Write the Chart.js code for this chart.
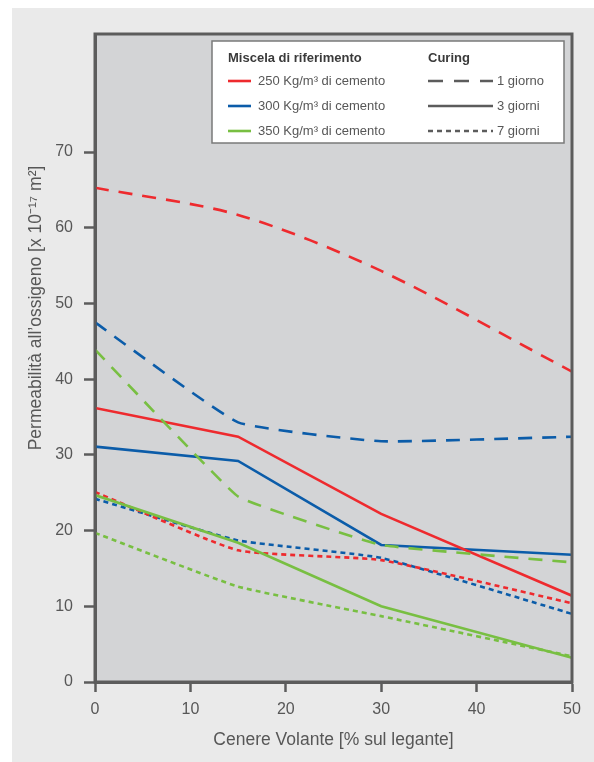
<!DOCTYPE html>
<html>
<head>
<meta charset="utf-8">
<style>
  html, body { margin: 0; padding: 0; background: #ffffff; }
  #wrap { position: relative; width: 594px; height: 762px; }
</style>
<script src="https://cdn.jsdelivr.net/npm/chart.js@4/dist/chart.umd.min.js"></script>
</head>
<body>
<div id="wrap"><canvas id="chart" width="594" height="762"></canvas></div>
<script>
// Fly ash content (% of binder)
const ceneri = [0, 15, 30, 50];

// Oxygen permeability [x 10^-17 m²] per mix and curing time
const c250_1g = [65.3, 61.7, 54.3, 41.0];
const c300_1g = [47.5, 34.3, 31.8, 32.4];
const c350_1g = [43.9, 24.5, 18.1, 15.8];

const c250_3g = [36.2, 32.4, 22.2, 11.4];
const c300_3g = [31.1, 29.2, 18.1, 16.8];
const c350_3g = [24.7, 18.4, 10.0, 3.2];

const c250_7g = [25.1, 17.4, 16.1, 10.4];
const c300_7g = [24.2, 18.7, 16.4, 9.0];
const c350_7g = [19.7, 12.6, 8.7, 3.4];

const xTicks = [0, 10, 20, 30, 40, 50];
const yTicks = [0, 10, 20, 30, 40, 50, 60, 70];

const miscele = ['250 Kg/m³ di cemento', '300 Kg/m³ di cemento', '350 Kg/m³ di cemento'];
const curing = ['1 giorno', '3 giorni', '7 giorni'];

const ROSSO = '#ee2a2e';
const BLU = '#0b5ca9';
const VERDE = '#78bf42';
const GRIGIO = '#5c5c5c';
const TESTO = '#575757';
const FONT = '"Liberation Sans", Arial, Helvetica, sans-serif';

const tratteggi = { 1: [14, 10], 3: [], 7: [5, 4] };

function serie(values, color, giorni, tension) {
  return {
    data: ceneri.map((x, i) => ({ x: x, y: values[i] })),
    borderColor: color,
    borderWidth: 2.6,
    borderDash: tratteggi[giorni],
    pointRadius: 0,
    fill: false,
    tension: tension
  };
}

const datasets = [
  serie(c250_1g, ROSSO, 1, 0.3), serie(c300_1g, BLU, 1, 0.12), serie(c350_1g, VERDE, 1, 0.08),
  serie(c250_3g, ROSSO, 3, 0), serie(c300_3g, BLU, 3, 0), serie(c350_3g, VERDE, 3, 0),
  serie(c250_7g, ROSSO, 7, 0.15), serie(c300_7g, BLU, 7, 0.12), serie(c350_7g, VERDE, 7, 0.12)
];

// Backgrounds, frame, axis titles and the two-column key
const decorazioni = {
  id: 'decorazioni',
  beforeDraw(chart) {
    const ctx = chart.ctx;
    const a = chart.chartArea;
    ctx.save();
    ctx.fillStyle = '#ffffff';
    ctx.fillRect(0, 0, chart.width, chart.height);
    ctx.fillStyle = '#eaeaea';
    ctx.fillRect(12, 8, chart.width - 12, chart.height - 8);
    ctx.fillStyle = '#d3d4d6';
    ctx.fillRect(a.left, a.top, a.right - a.left, a.bottom - a.top);
    ctx.restore();
  },
  afterDraw(chart) {
    const ctx = chart.ctx;
    const a = chart.chartArea;
    ctx.save();

    // plot frame
    ctx.strokeStyle = GRIGIO;
    ctx.lineWidth = 3;
    ctx.strokeRect(a.left, a.top, a.right - a.left, a.bottom - a.top);

    // axis titles
    ctx.fillStyle = TESTO;
    ctx.font = '17.5px ' + FONT;
    ctx.textAlign = 'center';
    ctx.textBaseline = 'middle';
    ctx.fillText('Cenere Volante [% sul legante]', (a.left + a.right) / 2, 740);
    ctx.save();
    ctx.translate(36, 308);
    ctx.rotate(-Math.PI / 2);
    ctx.fillText('Permeabilità all’ossigeno [x 10⁻¹⁷ m²]', 0, 0);
    ctx.restore();

    // key box
    const bx = 212, by = 41, bw = 352, bh = 102;
    ctx.fillStyle = '#ffffff';
    ctx.fillRect(bx, by, bw, bh);
    ctx.strokeStyle = '#7a7a7a';
    ctx.lineWidth = 1.5;
    ctx.strokeRect(bx, by, bw, bh);

    ctx.textAlign = 'left';
    ctx.fillStyle = '#3a3a3a';
    ctx.font = 'bold 13px ' + FONT;
    ctx.fillText('Miscela di riferimento', 228, 58);
    ctx.fillText('Curing', 428, 58);

    const righe = [81, 106, 131];
    const colori = [ROSSO, BLU, VERDE];
    const dashes = [[15, 11], [], [5, 4]];
    ctx.font = '13px ' + FONT;
    for (let i = 0; i < 3; i++) {
      const y = righe[i];
      ctx.strokeStyle = colori[i];
      ctx.lineWidth = 2.6;
      ctx.setLineDash([]);
      ctx.beginPath();
      ctx.moveTo(228, y);
      ctx.lineTo(251, y);
      ctx.stroke();
      ctx.fillStyle = TESTO;
      ctx.fillText(miscele[i], 258, y);

      ctx.strokeStyle = GRIGIO;
      ctx.setLineDash(dashes[i]);
      ctx.beginPath();
      ctx.moveTo(428, y);
      ctx.lineTo(493, y);
      ctx.stroke();
      ctx.setLineDash([]);
      ctx.fillText(curing[i], 497, y);
    }
    ctx.restore();
  }
};

new Chart(document.getElementById('chart'), {
  type: 'line',
  data: { datasets: datasets },
  plugins: [decorazioni],
  options: {
    responsive: false,
    animation: false,
    events: [],
    layout: { padding: { left: 0, top: 34, right: 22, bottom: 0 } },
    plugins: { legend: { display: false }, tooltip: { enabled: false } },
    scales: {
      x: {
        type: 'linear',
        min: 0,
        max: 50,
        afterFit(scale) { scale.height = 80; },
        afterBuildTicks(scale) { scale.ticks = xTicks.map(v => ({ value: v })); },
        grid: { drawOnChartArea: false, drawTicks: true, tickLength: 10, tickWidth: 2.5, tickColor: GRIGIO },
        border: { display: true, color: GRIGIO, width: 3 },
        ticks: { color: TESTO, font: { family: FONT, size: 16 }, padding: 8, maxRotation: 0 }
      },
      y: {
        type: 'linear',
        min: 0,
        max: 85.6,
        afterFit(scale) { scale.width = 95; },
        afterBuildTicks(scale) { scale.ticks = yTicks.map(v => ({ value: v })); },
        grid: { drawOnChartArea: false, drawTicks: true, tickLength: 11, tickWidth: 2.5, tickColor: GRIGIO },
        border: { display: true, color: GRIGIO, width: 3 },
        ticks: { color: TESTO, font: { family: FONT, size: 16 }, padding: 11 }
      }
    }
  }
});
</script>
</body>
</html>
